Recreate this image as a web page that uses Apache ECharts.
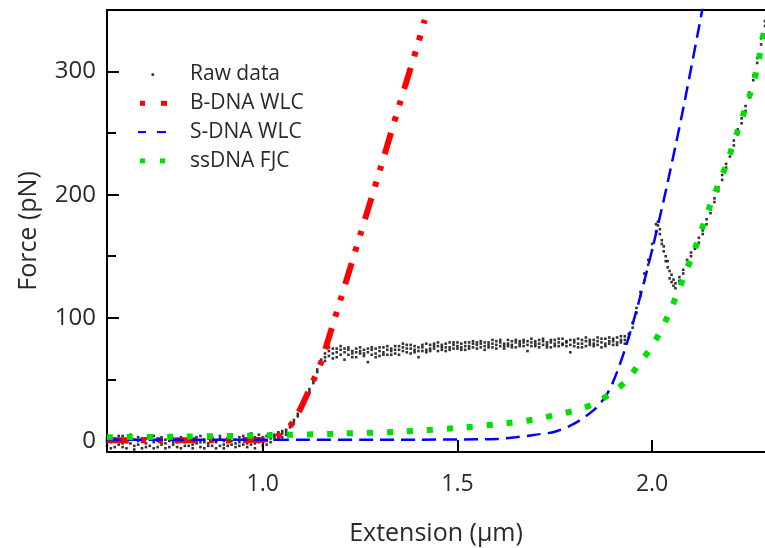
<!DOCTYPE html>
<html>
<head>
<meta charset="utf-8">
<script src="https://cdn.jsdelivr.net/npm/echarts@6/dist/echarts.min.js"></script>
<style>
html,body{margin:0;padding:0;background:#fff;}
#chart{width:765px;height:548px;}
</style>
</head>
<body>
<div id="chart"></div>
<script>
// ---- Axis settings / tick labels ----
var xTicks = [1.0, 1.5, 2.0];
var yTicks = [0, 100, 200, 300];
var yMinorTicks = [50, 150, 250];

// ---- Raw data: rows of [extension, force, force, ...] ----
var rawRows = [
[0.60,2,-4,0],[0.61,-1,3,-6],[0.62,-5,1,2],[0.63,0,-3,4],[0.64,4,-2,-5],[0.65,-6,1,-1],[0.66,-2,2,5],[0.67,1,-4,-7],
[0.68,-3,3,0],[0.69,0,-6,2],[0.70,2,-2,-5],[0.71,-4,1,3],[0.72,-1,4,-6],[0.73,-5,0,2],[0.74,3,-3,-1],[0.75,-2,1,-6],
[0.76,0,-5,3],[0.77,-3,2,-1],[0.78,1,-1,-5],[0.79,-6,3,0],[0.80,-1,0,-4],[0.81,2,-4,4],[0.82,-3,1,-6],[0.83,0,-2,3],
[0.84,-5,4,-1],[0.85,1,-1,-6],[0.86,-2,2,-4],[0.87,3,-4,0],[0.88,-1,0,-6],[0.89,-4,2,4],[0.90,0,-3,-6],[0.91,2,-1,-4],
[0.92,-3,5,0],[0.93,1,-2,-5],[0.94,-1,3,-4],[0.95,4,-3,1],[0.96,-2,1,-5],[0.97,0,6,-3],[0.98,3,-2,-6],[0.99,-1,2,5],
[1.00,1,-4,3],[1.01,4,0,-3],[1.02,2,6,-1],[1.03,5,1,3],
[1.04,4,2,7],[1.05,6,8,3],[1.06,9,7,5],[1.07,13,11],[1.08,17,15],[1.09,22,20],[1.10,28,26],[1.11,35,33],
[1.12,42,40],[1.13,49,47],[1.14,56,58],[1.15,63,66],[1.16,68,71,65],
[1.17,73,69,76],[1.18,71,75,67],[1.19,68,72,75],[1.20,74,70,77],[1.21,72,66,75],[1.22,70,74,76],[1.23,73,71,68],[1.24,75,68,72],
[1.25,71,73,76],[1.26,69,74,71],[1.27,72,64,75],[1.28,74,70,76],[1.29,71,75,68],[1.30,73,69,76],[1.31,76,72,70],[1.32,70,74,77],
[1.33,73,75,70],[1.34,71,77,74],[1.35,74,70,77],[1.36,76,73,79],[1.37,72,78,75],[1.38,75,71,78],[1.39,77,74,72],[1.40,73,68,76],
[1.41,76,78,73],[1.42,74,72,79],[1.43,78,75,73],[1.44,75,79,77],[1.45,77,73,80],[1.46,74,78,76],[1.47,79,76,73],[1.48,76,74,80],
[1.49,78,80,75],[1.50,75,77,80],[1.51,79,76,74],[1.52,77,74,80],[1.53,80,77,75],[1.54,76,79,81],[1.55,78,75,80],[1.56,79,81,76],
[1.57,77,74,80],[1.58,80,78,76],[1.59,76,79,82],[1.60,78,81,75],[1.61,80,77,82],[1.62,77,79,75],[1.63,79,82,77],[1.64,81,78,76],
[1.65,76,80,82],[1.66,79,77,81],[1.67,82,80,77],[1.68,78,73,81],[1.69,80,77,83],[1.70,77,81,79],[1.71,79,82,76],[1.72,81,78,83],
[1.73,78,80,76],[1.74,80,76,82],[1.75,82,79,77],[1.76,77,80,83],[1.77,79,83,78],[1.78,81,77,80],[1.79,78,72,82],[1.80,80,82,77],
[1.81,83,79,76],[1.82,79,76,82],[1.83,77,81,84],[1.84,80,78,82],[1.85,82,79,77],[1.86,78,81,84],[1.87,80,76,83],[1.88,83,79,77],
[1.89,79,81,84],[1.90,81,78,83],[1.91,84,80,78],[1.92,80,82,85],[1.93,82,85,79],
[1.94,84,87],[1.95,92,96],[1.96,104,108],[1.97,118,121],[1.98,130,136],[1.99,143,147],[2.00,155,160],
[2.01,170,176],[2.015,178,175],[2.02,172,168],[2.025,163,160],[2.03,158,154],[2.035,150,146],[2.04,146,141],
[2.045,138,132],[2.05,129,135],[2.055,126,131],[2.06,128,124],[2.07,133,130],[2.08,139,136],[2.09,144,147],
[2.10,150,153],[2.11,156,159],[2.12,161,165],[2.13,168,171],[2.14,176,180],[2.15,185,188],[2.16,194,197],
[2.17,203,206],[2.18,212,216],[2.19,222,225],[2.20,231,234],[2.21,240,244],[2.22,249,253],[2.23,258,262],
[2.24,268,272],[2.25,279,283],[2.26,293,297],[2.27,307,311],[2.28,322,327],[2.29,337,341]
];

// ---- B-DNA WLC fit ----
var bdnaX = [0.6, 0.8, 1.0, 1.03, 1.05, 1.07, 1.09, 1.11, 1.13, 1.15, 1.17, 1.20, 1.25, 1.30, 1.35, 1.40, 1.416];
var bdnaF = [0.5, 0.5, 1, 3, 6, 12, 22, 35, 49, 64, 84, 115, 167, 219, 272, 324, 342];

// ---- S-DNA WLC fit ----
var sdnaX = [0.6, 1.0, 1.4, 1.5, 1.6, 1.65, 1.7, 1.75, 1.8, 1.85, 1.88, 1.9, 1.93, 1.96, 2.0, 2.04, 2.08, 2.13];
var sdnaF = [1, 1, 1, 1.2, 1.5, 3, 5, 7.5, 14, 25, 36, 48, 74, 106, 155, 210, 270, 352];

// ---- ssDNA FJC fit ----
var fjcX = [0.6, 0.8, 1.0, 1.2, 1.35, 1.5, 1.6, 1.7, 1.75, 1.8, 1.85, 1.9, 1.935, 1.965, 2.0, 2.04, 2.08, 2.11, 2.15, 2.19, 2.22, 2.25, 2.27, 2.29];
var fjcF = [3, 3.5, 4.5, 6, 7.5, 10.5, 13.5, 17.5, 21, 24.5, 30, 40, 49, 62, 77, 101, 132, 156, 192, 224, 252, 280, 303, 338];

var seriesNames = ['Raw data', 'B-DNA WLC', 'S-DNA WLC', 'ssDNA FJC'];

function zip(xs, ys){ var o=[]; for (var i=0;i<xs.length;i++) o.push([xs[i], ys[i]]); return o; }
var rawPts = [];
rawRows.forEach(function(r){ for (var k=1;k<r.length;k++) rawPts.push([r[0], r[k]]); });

function svgIcon(inner){
  var s = '<svg xmlns="http://www.w3.org/2000/svg" width="48" height="8" viewBox="0 0 48 8">' + inner + '</svg>';
  return 'image://data:image/svg+xml;charset=utf-8,' + encodeURIComponent(s);
}
var icons = [
  svgIcon('<rect x="14.5" y="2.8" width="2.6" height="2.6" fill="#000"/>'),
  svgIcon('<rect x="3" y="1.5" width="5" height="5" fill="#ff0000"/><rect x="24" y="1.5" width="6" height="5" fill="#ff0000"/>'),
  svgIcon('<rect x="1" y="3" width="8" height="2" fill="#0000ff"/><rect x="20" y="3" width="9" height="2" fill="#0000ff"/>'),
  svgIcon('<rect x="3" y="1.5" width="5" height="5" fill="#00e000"/><rect x="23" y="1.5" width="5" height="5" fill="#00e000"/>')
];

var FONT = 'Open Sans';
var chart = echarts.init(document.getElementById('chart'), null, {renderer:'canvas'});
chart.setOption({
  animation: false,
  backgroundColor: '#ffffff',
  grid: {left: 107, right: 0, top: 10, bottom: 96, containLabel: false, outerBoundsMode: 'none'},
  legend: {
    left: 132, top: 59, orient: 'vertical', padding: 5,
    itemWidth: 48, itemHeight: 8, itemGap: 7.8,
    textStyle: {fontFamily: FONT, fontSize: 21, color: '#2a2a2a', lineHeight: 21},
    data: seriesNames.map(function(n, i){ return {name: n, icon: icons[i]}; })
  },
  xAxis: [{
    type: 'value', min: 0.6, max: 2.29,
    name: 'Extension (\u00b5m)', nameLocation: 'middle', nameGap: 69,
    nameTextStyle: {fontFamily: FONT, fontSize: 25, color: '#2a2a2a'},
    axisLine: {show: true, onZero: false, lineStyle: {color: '#000', width: 2}},
    axisTick: {show: true, inside: true, length: 12, lineStyle: {color: '#000', width: 2}, customValues: xTicks},
    axisLabel: {show: true, margin: 21, fontFamily: FONT, fontSize: 23, color: '#2a2a2a', customValues: xTicks,
      formatter: function(v){ return v.toFixed(1); }},
    splitLine: {show: false}
  }, {
    type: 'value', min: 0.6, max: 2.29, position: 'top',
    axisLine: {show: true, onZero: false, lineStyle: {color: '#000', width: 2}},
    axisTick: {show: false}, axisLabel: {show: false}, splitLine: {show: false}
  }],
  yAxis: [{
    type: 'value', min: -9, max: 350,
    name: 'Force (pN)', nameLocation: 'middle', nameGap: 66,
    nameTextStyle: {fontFamily: FONT, fontSize: 25, color: '#2a2a2a'},
    axisLine: {show: true, onZero: false, lineStyle: {color: '#000', width: 2}},
    axisTick: {show: true, inside: true, length: 12, lineStyle: {color: '#000', width: 2}, customValues: yTicks},
    axisLabel: {show: true, margin: 11, fontFamily: FONT, fontSize: 24, color: '#2a2a2a', customValues: yTicks},
    splitLine: {show: false}
  }, {
    type: 'value', min: -9, max: 350, position: 'left', offset: 0,
    axisLine: {show: false},
    axisTick: {show: true, inside: true, length: 9, lineStyle: {color: '#000', width: 2}, customValues: yMinorTicks},
    axisLabel: {show: false}, splitLine: {show: false}
  }],
  series: [{
    name: seriesNames[0], type: 'scatter', data: rawPts,
    symbol: 'rect', symbolSize: 2.6, itemStyle: {color: '#000'}, z: 2
  }, {
    name: seriesNames[1], type: 'line', data: zip(bdnaX, bdnaF), showSymbol: false, smooth: 0.3,
    lineStyle: {color: '#ff0000', width: 6, type: [22, 12, 5, 12, 5, 12], cap: 'butt'}, itemStyle: {color: '#ff0000'}, z: 3
  }, {
    name: seriesNames[2], type: 'line', data: zip(sdnaX, sdnaF), showSymbol: false, smooth: 0.3,
    lineStyle: {color: '#0000ff', width: 2.5, type: [14, 7], cap: 'butt'}, itemStyle: {color: '#0000ff'}, z: 3
  }, {
    name: seriesNames[3], type: 'line', data: zip(fjcX, fjcF), showSymbol: false, smooth: 0.3,
    lineStyle: {color: '#00e000', width: 6, type: [6, 14], cap: 'butt'}, itemStyle: {color: '#00e000'}, z: 3
  }]
});
</script>
</body>
</html>
